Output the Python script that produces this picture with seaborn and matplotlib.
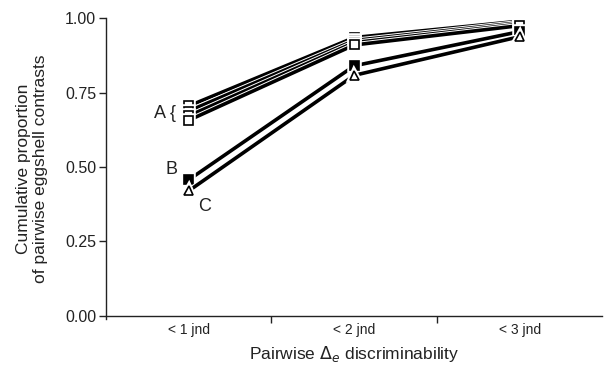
import matplotlib
matplotlib.use("Agg")
import matplotlib.pyplot as plt
import matplotlib.patheffects as pe
import seaborn as sns
import pandas as pd

# categories on the x axis
categories = ["< 1 jnd", "< 2 jnd", "< 3 jnd"]

# group A: four open-square series
a1 = [0.705, 0.935, 0.990]
a2 = [0.688, 0.925, 0.985]
a3 = [0.672, 0.918, 0.980]
a4 = [0.657, 0.910, 0.975]
# group B: filled squares, group C: open triangles
b1 = [0.457, 0.840, 0.955]
c1 = [0.420, 0.808, 0.938]

series = [
    ("A1", a1, "s", "white"),
    ("A2", a2, "s", "white"),
    ("A3", a3, "s", "white"),
    ("A4", a4, "s", "white"),
    ("B", b1, "s", "black"),
    ("C", c1, "^", "white"),
]

sns.set_style("ticks")
plt.rcParams["font.family"] = ["Liberation Sans", "DejaVu Sans"]

fig = plt.figure(figsize=(6.04, 3.71), dpi=100)
ax = fig.add_axes([0.1755, 0.139, 0.822, 0.812])

outline = [pe.Stroke(linewidth=4.0, foreground="white"), pe.Normal()]
for name, vals, mk, fc in series:
    df = pd.DataFrame({"cat": categories, "val": vals})
    sns.lineplot(data=df, x="cat", y="val", ax=ax, color="black",
                 linewidth=2.6, marker=mk, markersize=6.5,
                 markerfacecolor=fc, markeredgecolor="black",
                 markeredgewidth=1.2, legend=False,
                 path_effects=outline)

ax.set_xlim(-0.5, 2.5)
ax.set_ylim(-0.012, 1.0)
ax.spines["bottom"].set_position(("data", 0))
ax.spines["top"].set_visible(False)
ax.spines["right"].set_visible(False)
for sp in ["left", "bottom"]:
    ax.spines[sp].set_linewidth(1.0)
    ax.spines[sp].set_color("#222222")

ax.set_yticks([0, 0.25, 0.5, 0.75, 1.0])
ax.set_yticklabels(["0.00", "0.25", "0.50", "0.75", "1.00"], fontsize=11.5, color="#222222")
ax.set_xticks([0, 1, 2])
ax.set_xticklabels(categories, fontsize=10, color="#222222")
ax.tick_params(axis="x", which="major", length=0, pad=5)
ax.set_xticks([0.5, 1.5], minor=True)
ax.tick_params(axis="x", which="minor", length=5, width=1, color="#222222", direction="out")
ax.tick_params(axis="y", length=5, width=1, color="#222222", direction="out", pad=2)

ax.set_xlabel("Pairwise $\\Delta_e$ discriminability", fontsize=12.5, color="#222222", labelpad=5)
ax.set_ylabel("Cumulative proportion\nof pairwise eggshell contrasts", fontsize=12.5,
              color="#222222", labelpad=12, linespacing=1.2)

ax.text(-0.145, 0.68, "A {", fontsize=13, ha="center", va="center", color="#222222")
ax.text(-0.105, 0.49, "B", fontsize=13, ha="center", va="center", color="#222222")
ax.text(0.096, 0.368, "C", fontsize=13, ha="center", va="center", color="#222222")

fig.savefig("out.png", dpi=100)
